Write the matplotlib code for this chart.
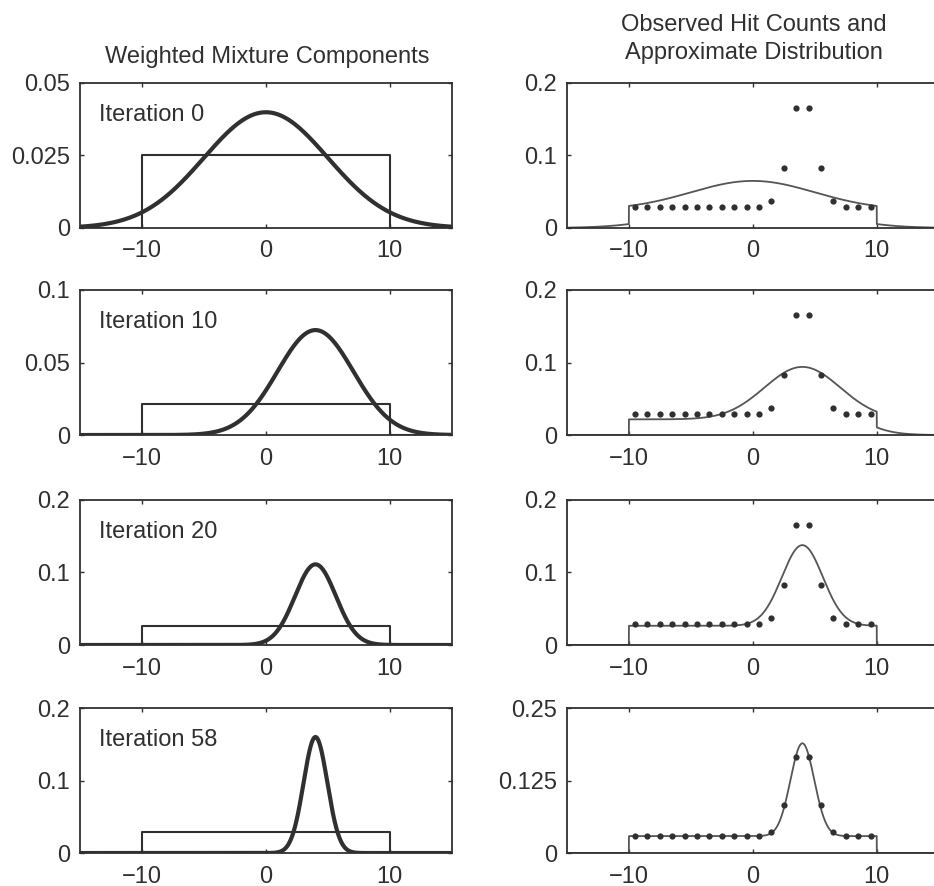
import matplotlib
matplotlib.use("Agg")
import matplotlib.pyplot as plt
import numpy as np

plt.rcParams['font.family'] = ['Liberation Sans', 'DejaVu Sans']

# mixture parameters read from each iteration (uniform on [-10, 10] + gaussian)
iterations = [0, 10, 20, 58]
unif_height = [0.025, 0.0216, 0.0265, 0.0292]
gauss_weight = [0.50, 0.555, 0.46, 0.385]
gauss_mean = [0.0, 4.0, 4.0, 4.0]
gauss_sigma = [5.0, 3.06, 1.65, 0.96]

# observed hit counts (normalised), bin centres -9.5 .. 9.5
hit_x = [-9.5, -8.5, -7.5, -6.5, -5.5, -4.5, -3.5, -2.5, -1.5, -0.5,
         0.5, 1.5, 2.5, 3.5, 4.5, 5.5, 6.5, 7.5, 8.5, 9.5]
hit_y = [0.029, 0.029, 0.029, 0.029, 0.029, 0.029, 0.029, 0.029, 0.029, 0.029,
         0.029, 0.037, 0.083, 0.166, 0.166, 0.083, 0.037, 0.029, 0.029, 0.029]

left_yticks = [[0, 0.025, 0.05], [0, 0.05, 0.1], [0, 0.1, 0.2], [0, 0.1, 0.2]]
left_ylabels = [["0", "0.025", "0.05"], ["0", "0.05", "0.1"], ["0", "0.1", "0.2"], ["0", "0.1", "0.2"]]
right_yticks = [[0, 0.1, 0.2], [0, 0.1, 0.2], [0, 0.1, 0.2], [0, 0.125, 0.25]]
right_ylabels = [["0", "0.1", "0.2"], ["0", "0.1", "0.2"], ["0", "0.1", "0.2"], ["0", "0.125", "0.25"]]
xticks = [-10, 0, 10]

ink = "#303030"
fs = 17

fig = plt.figure(figsize=(9.34, 8.86), dpi=100)

row_bottoms = [0.7427, 0.509, 0.272, 0.0372]
row_h = 0.1637

x = np.linspace(-15, 15, 6001)


def style(ax, yt, yl):
    ax.set_xlim(-15, 15)
    ax.set_ylim(yt[0], yt[-1])
    ax.set_xticks(xticks)
    ax.set_xticklabels(["\u221210", "0", "10"])
    ax.set_yticks(yt)
    ax.set_yticklabels(yl)
    ax.tick_params(direction="in", length=3, width=1, colors=ink, labelsize=fs,
                   top=True, right=True)
    ax.tick_params(axis="x", pad=9)
    ax.tick_params(axis="y", pad=7)
    for s in ax.spines.values():
        s.set_color(ink)
        s.set_linewidth(1.3)


for i in range(4):
    g = gauss_weight[i] / (gauss_sigma[i] * np.sqrt(2 * np.pi)) * \
        np.exp(-0.5 * ((x - gauss_mean[i]) / gauss_sigma[i]) ** 2)
    u = np.where((x >= -10) & (x <= 10), unif_height[i], 0.0)

    axl = fig.add_axes([0.0857, row_bottoms[i], 0.398, row_h])
    axl.plot([-15, -10, -10, 10, 10, 15],
             [0, 0, unif_height[i], unif_height[i], 0, 0], color=ink, lw=1.5)
    axl.plot(x, g, color=ink, lw=3.0, solid_capstyle="butt")
    style(axl, left_yticks[i], left_ylabels[i])
    axl.text(0.05, 0.78, "Iteration %d" % iterations[i], transform=axl.transAxes,
             fontsize=fs, color=ink, va="center", ha="left")

    axr = fig.add_axes([0.607, row_bottoms[i], 0.398, row_h])
    axr.plot(x, g + u, color="#555555", lw=1.3)
    axr.plot(hit_x, hit_y, "o", color=ink, ms=4.5, mec="none")
    style(axr, right_yticks[i], right_ylabels[i])

fig.text(0.2857, 1 - 57 / 886, "Weighted Mixture Components", ha="center", va="center",
         fontsize=fs, color=ink)
fig.text(0.807, 1 - 25 / 886, "Observed Hit Counts and", ha="center", va="center",
         fontsize=fs, color=ink)
fig.text(0.807, 1 - 53 / 886, "Approximate Distribution", ha="center", va="center",
         fontsize=fs, color=ink)

fig.savefig("out.png", dpi=100)
